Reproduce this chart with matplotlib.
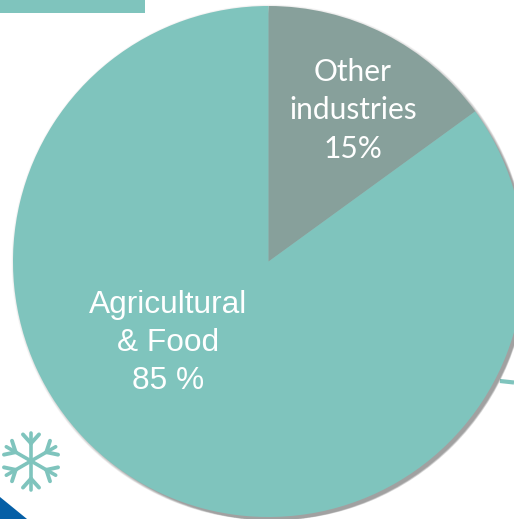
import numpy as np
import matplotlib
matplotlib.use("Agg")
import matplotlib.pyplot as plt
from matplotlib.patches import Polygon, Rectangle

# Share of each sector, clockwise from twelve o'clock
sectors = ["Other industries", "Agricultural & Food"]
shares = [15, 85]
sector_colors = ["#87A09B", "#7FC4BD"]

W, H = 514, 519
TEAL = "#7FC4BD"
CX, CY, R = 268.5, 261.5, 255.5

fig = plt.figure(figsize=(W / 100, H / 100), dpi=100, facecolor="white")

# Backdrop axes in pixel coordinates for the slide decorations
bg = fig.add_axes([0, 0, 1, 1])
bg.set_xlim(0, W)
bg.set_ylim(H, 0)
bg.axis("off")

bg.add_patch(Rectangle((-2, -2), 147, 15, fc=TEAL, ec="none"))
bg.add_patch(Polygon([(0, 497), (27, 519), (0, 519)], fc="#055FA6", ec="none"))
bg.plot([500, 514], [381, 382.5], color=TEAL, lw=3.0, solid_capstyle="butt")

# Snowflake: six arms, each with a pair of short barbs near the tip
sx, sy, arm = 31.0, 461.0, 28.5
for k in range(6):
    a = np.radians(90 + 60 * k)
    d = np.array([np.cos(a), -np.sin(a)])
    c = np.array([sx, sy])
    tip = c + arm * d
    bg.plot(*zip(c, tip), color=TEAL, lw=2.6, solid_capstyle="round")
    base = c + arm * 0.62 * d
    for turn in (-42, 42):
        b = a + np.radians(turn)
        e = base + 12 * np.array([np.cos(b), -np.sin(b)])
        bg.plot(*zip(base, e), color=TEAL, lw=2.8, solid_capstyle="round")

# Pie axes: one data unit equals the radius, so the circle runs past the right edge
ax = fig.add_axes([(CX - R) / W, (H - CY - R) / H, 2 * R / W, 2 * R / H])
ax.set_xlim(-1, 1)
ax.set_ylim(-1, 1)
ax.axis("off")
ax.patch.set_alpha(0)

# Soft drop shadow built from stacked translucent discs
for i in range(12):
    off = (1 + i * 0.4) / R
    ax.pie([1], radius=1 + (6 - i) * 0.4 / R, center=(off, -off), colors=["#000000"],
           wedgeprops={"alpha": 0.035, "linewidth": 0}, frame=True)

ax.pie(shares, radius=1, startangle=90, counterclock=False, colors=sector_colors,
       wedgeprops={"linewidth": 0}, frame=True)
ax.set_xlim(-1, 1)
ax.set_ylim(-1, 1)
ax.axis("off")

# Slice labels
bg_text = fig.add_axes([0, 0, 1, 1], facecolor="none")
bg_text.set_xlim(0, W)
bg_text.set_ylim(H, 0)
bg_text.axis("off")

agri_lines = ["Agricultural", "& Food", "85 %"]
for y, line in zip([305, 343, 381], agri_lines):
    bg_text.text(168, y, line, color="white", ha="center", va="center",
                 family="Liberation Sans", fontsize=22.8)

other_lines = ["Other", "industries", "15%"]
for y, line in zip([72, 110, 149], other_lines):
    bg_text.text(353, y, line, color="white", ha="center", va="center",
                 family="Lato", fontsize=21.5)

fig.savefig("out.png", dpi=100, facecolor="white")
